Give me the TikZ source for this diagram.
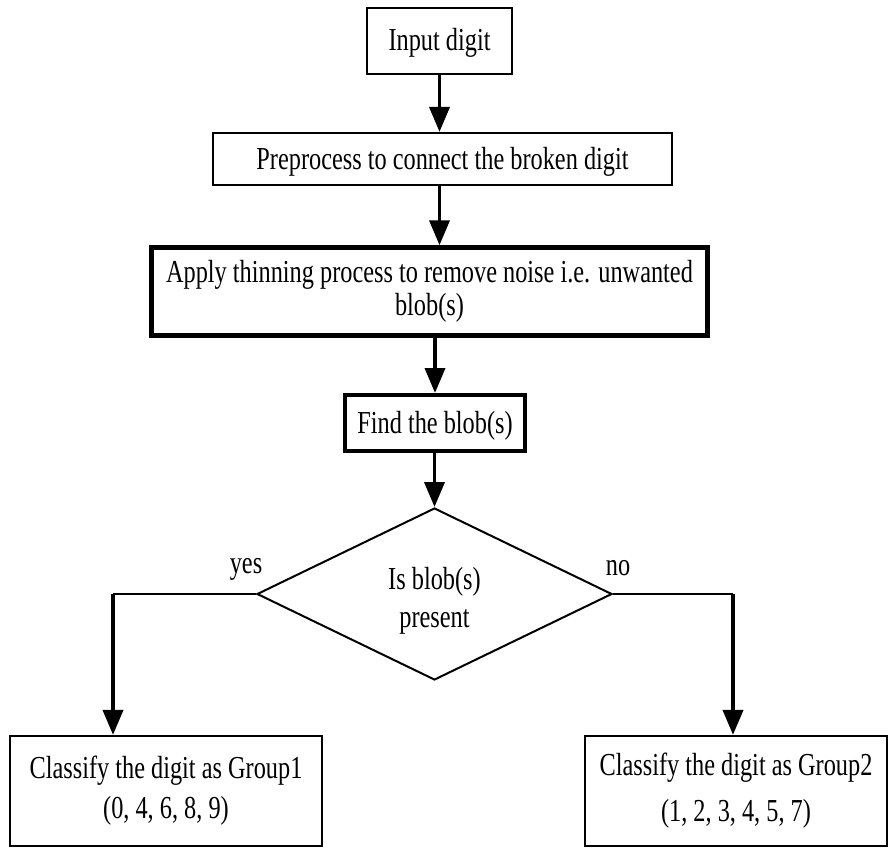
\documentclass[tikz,border=0pt]{standalone}
\usepackage{fontspec}
\setmainfont{Liberation Serif}[FakeStretch=0.76]
\usetikzlibrary{shapes.geometric,arrows.meta,calc}
\tikzset{
  box/.style={draw=black, rectangle, inner sep=0pt, align=center,
    font=\fontsize{32}{38}\selectfont},
  oneline/.style={text height=20pt, text depth=0pt},
  thinbox/.style={box, line width=2.2pt},
  thickbox/.style={box, line width=4.5pt},
  decision/.style={draw=black, diamond, line width=2pt, inner sep=0pt, align=center,
    font=\fontsize{32}{38}\selectfont},
  arr/.style={line width=3.8pt, -{Triangle[length=25pt,width=20pt]}},
  link/.style={line width=2.5pt},
  lbl/.style={font=\fontsize{32}{38}\selectfont, anchor=base, inner sep=0pt}
}
\begin{document}
\begin{tikzpicture}[x=1pt,y=-1pt]
\useasboundingbox (0,0) rectangle (890,848);
\node[thinbox, oneline, minimum width=145pt, minimum height=66pt] (b1) at (439.5,41) {Input digit};
\node[thinbox, oneline, minimum width=459pt, minimum height=52pt] (b2) at (442.5,159) {Preprocess to connect the broken digit};
\node[thickbox, minimum width=556pt, minimum height=88pt, font=\fontsize{32}{33}\selectfont] (b3) at (429.5,291.5) {Apply thinning process to remove noise i.e. unwanted\\blob(s)};
\node[box, oneline, line width=4pt, minimum width=180pt, minimum height=56pt] (b4) at (435,423) {Find the blob(s)};
\node[decision, minimum width=355pt, minimum height=172pt, text height=66pt, text depth=0pt] (d) at (434.5,594) {Is blob(s)\\present};
\node[thinbox, minimum width=312pt, minimum height=110pt, font=\fontsize{32}{40}\selectfont] (b5) at (166,791) {Classify the digit as Group1\\(0, 4, 6, 8, 9)};
\node[thinbox, minimum width=302pt, minimum height=110pt, font=\fontsize{32}{46}\selectfont] (b6) at (736,791) {Classify the digit as Group2\\(1, 2, 3, 4, 5, 7)};
\node[lbl] (yes) at (246,573) {yes};
\node[lbl] (no) at (618,575) {no};
\coordinate (yc) at ($(b5.north)+(-53,0)$);
\coordinate (nc) at ($(b6.north)+(-3,0)$);
\draw[arr] (b1.south) -- (b1.south |- b2.north);
\draw[arr] (b1.south |- b2.south) -- (b1.south |- b3.north);
\draw[arr] (b4.north |- b3.south) -- (b4.north);
\draw[arr] (d.north |- b4.south) -- (d.north);
\draw[link] (d.west) -- (d.west -| yc);
\draw[arr] (d.west -| yc) -- (yc);
\draw[link] (d.east) -- (d.east -| nc);
\draw[arr] (d.east -| nc) -- (nc);
\end{tikzpicture}
\end{document}
